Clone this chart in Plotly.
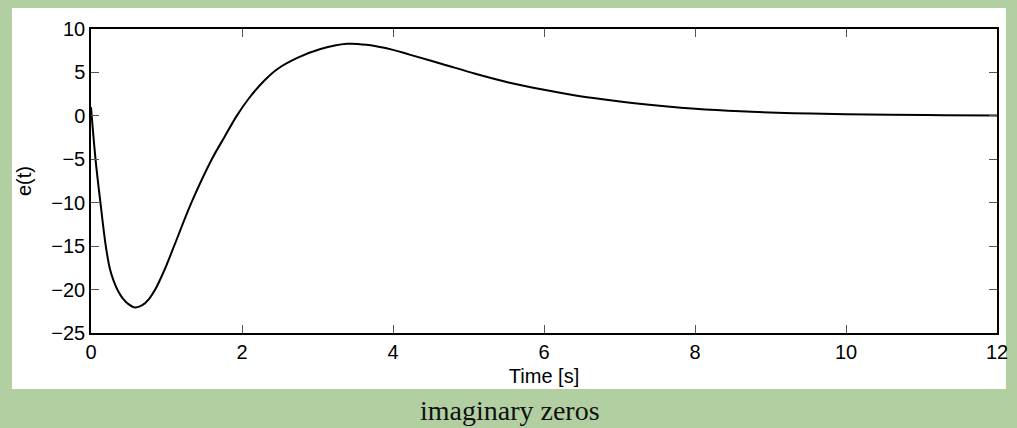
import plotly.graph_objects as go

# Readings from the reference chart
time_s = [0.0, 0.06, 0.125, 0.196, 0.25, 0.30, 0.36, 0.42, 0.50, 0.585, 0.68, 0.77,
          0.85, 0.98, 1.10, 1.33, 1.60, 1.77, 1.93, 2.09, 2.30, 2.47, 2.74, 3.04,
          3.39, 3.65, 4.0, 4.22, 4.66, 5.09, 5.53, 6.0, 6.4, 6.8, 7.2, 7.6, 8.0,
          8.6, 9.3, 10.0, 10.6, 11.3, 12.0]
e_t = [1.0, -5.0, -10.0, -15.0, -17.6, -19.0, -20.2, -21.0, -21.7, -22.07, -21.8, -21.06,
       -20.0, -17.6, -15.0, -10.0, -5.0, -2.4, 0.0, 2.0, 4.1, 5.4, 6.7, 7.7,
       8.3, 8.18, 7.6, 7.05, 5.95, 4.85, 3.85, 3.0, 2.38, 1.88, 1.45, 1.1, 0.82,
       0.53, 0.31, 0.19, 0.12, 0.07, 0.04]

x_ticks = [0, 2, 4, 6, 8, 10, 12]
y_ticks = [-25, -20, -15, -10, -5, 0, 5, 10]

W, H = 1017, 428
L, R, T, B = 91, 9, 29, 95
pw, ph = W - L - R, H - T - B

FONT = "Liberation Sans, Arial, Helvetica"

fig = go.Figure()
fig.add_trace(go.Scatter(x=time_s, y=e_t, mode="lines",
                         line=dict(color="black", width=2, shape="spline", smoothing=1.0),
                         hoverinfo="skip", showlegend=False))

# white panel behind the axes
fig.add_shape(type="rect", xref="paper", yref="paper", layer="below",
              x0=(11 - L) / pw, x1=(W - L) / pw,
              y0=(H - B - 389) / ph, y1=(H - B - 8) / ph,
              fillcolor="white", line=dict(width=0))

axis_common = dict(showgrid=False, zeroline=False, showline=True, mirror="ticks",
                   linecolor="black", linewidth=1.5, ticks="inside", ticklen=8,
                   tickwidth=1, tickcolor="#555555", ticklabeloverflow="allow",
                   tickfont=dict(family=FONT, size=20, color="black"))

fig.update_xaxes(range=[0, 12], tickvals=x_ticks, **axis_common,
                 title=dict(text="Time [s]", standoff=7,
                            font=dict(family=FONT, size=20, color="black")))
fig.update_yaxes(range=[-25, 10], tickvals=y_ticks, **axis_common,
                 title=dict(text="e(t)", standoff=14,
                            font=dict(family=FONT, size=20, color="black")))

fig.add_annotation(text="imaginary zeros", xref="paper", yref="paper",
                   x=(515 - L) / pw, y=(H - B - 410) / ph, showarrow=False,
                   xanchor="center", yanchor="middle",
                   font=dict(family="Liberation Serif, Times New Roman", size=28, color="#111111"))

fig.update_layout(width=W, height=H, margin=dict(l=L, r=R, t=T, b=B),
                  paper_bgcolor="#b2cfa2", plot_bgcolor="white")

fig.write_html("out.html")
